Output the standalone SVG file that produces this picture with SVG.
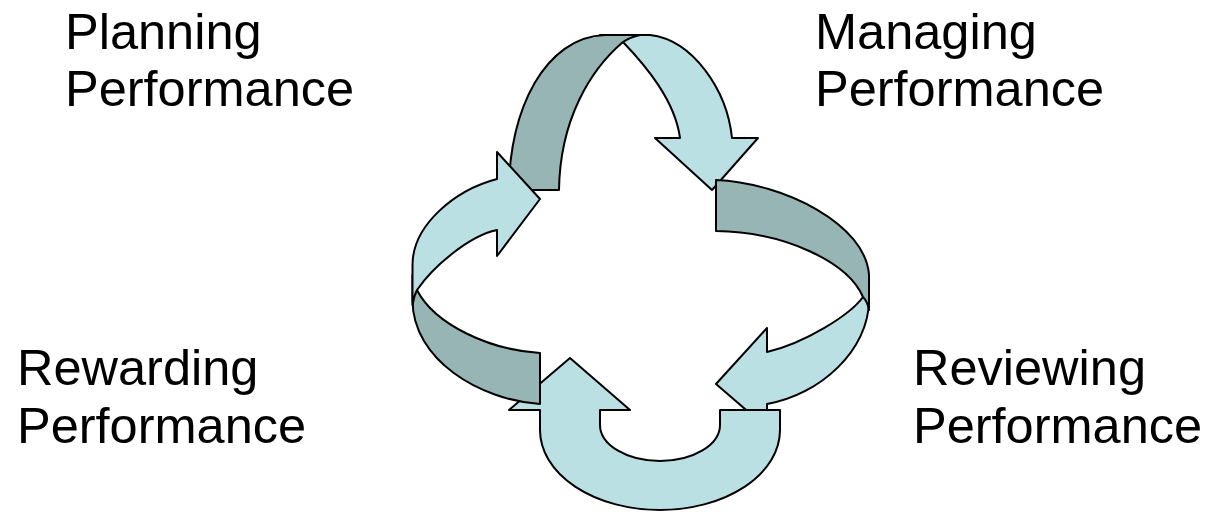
<svg xmlns="http://www.w3.org/2000/svg" width="1205" height="512" viewBox="0 0 1205 512">
  <style>
    .lt { fill: #BBE0E3; stroke: #000; stroke-width: 2; stroke-linejoin: round; }
    .dk { fill: #97B5B5; stroke: #000; stroke-width: 2; stroke-linejoin: round; }
    .lbl { font-family: "Liberation Sans", Arial, sans-serif; font-size: 50.5px; fill: #000; }
  </style>
  <rect width="1205" height="512" fill="#fff"/>
  <g id="connectors">
    <path id="right-light" class="lt" d="M 869,285 L 869,300 C 869,350 820,395 767,404 L 767,428 L 716,384 L 767,328 L 767,352 C 805,343 850,315 863,297 C 866,293 868,289 869,285 Z"/>
    <path id="bottom-arrow" class="lt" d="M 720,410 L 780,410 L 780,430 A 120 80 0 0 1 540,430 L 540,410 L 509,410 L 570,358 L 630,410 L 600,410 L 600,425 A 60 36 0 0 0 720,425 Z"/>
    <path id="left-dark" class="dk" d="M 540,353 L 540,404 C 480,400 412.5,360 412.5,300 L 412.5,275 C 413.5,282 415,286 417,290 C 435,325 490,350 540,353 Z"/>
    <path id="top-light" class="lt" d="M 600,35 L 650,35 C 693,40 727,90 732,138 L 758,138 L 712,190 L 655,138 L 680,138 C 675,100 645,65 623,42 C 615,37 608,35 600,35 Z"/>
    <path id="top-dark" class="dk" d="M 559,190 L 509,190 C 509,110 545,37 605,35 L 640,35 C 632,37 627,39 623,42 C 590,70 560,120 559,190 Z"/>
    <path id="left-light" class="lt" d="M 412.5,305 L 412.5,265 C 412.5,225 455,190 497,179 L 497,152 L 540,199 L 497,256 L 497,230 C 468,236 432,268 417,290 C 415,294 413.5,299 412.5,305 Z"/>
    <path id="right-dark" class="dk" d="M 716,180 C 785,183 866,225 869,275 L 869,310 C 868,304 866,300 863,297 C 848,262 785,232 716,231 Z"/>
  </g>
  <g id="planning">
    <text class="lbl" x="65" y="49">Planning</text>
    <text class="lbl" x="65" y="106">Performance</text>
  </g>
  <g id="managing">
    <text class="lbl" x="815" y="49">Managing</text>
    <text class="lbl" x="815" y="106">Performance</text>
  </g>
  <g id="rewarding">
    <text class="lbl" x="17" y="385">Rewarding</text>
    <text class="lbl" x="17" y="443">Performance</text>
  </g>
  <g id="reviewing">
    <text class="lbl" x="913" y="385">Reviewing</text>
    <text class="lbl" x="913" y="443">Performance</text>
  </g>
</svg>
